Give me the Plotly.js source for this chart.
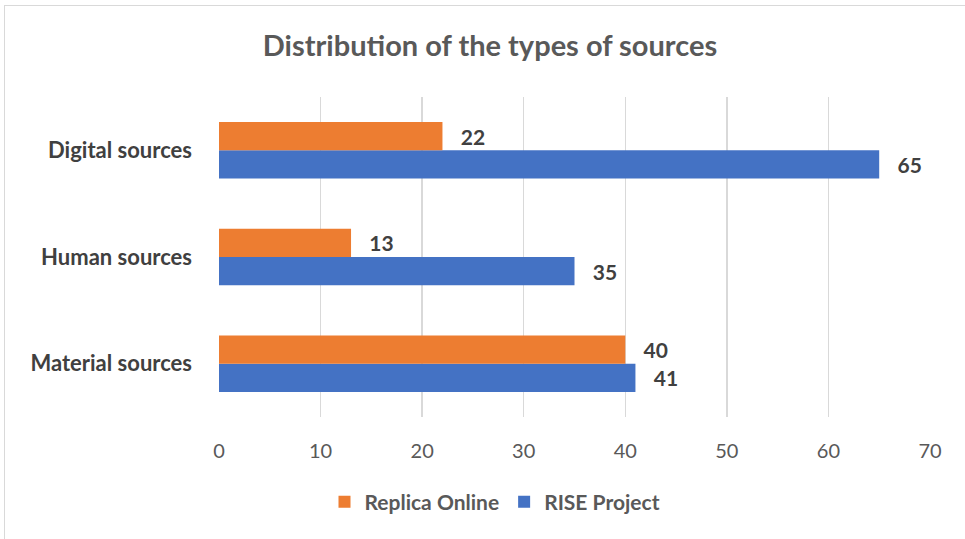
<!DOCTYPE html>
<html>
<head>
<meta charset="utf-8">
<script src="https://cdn.plot.ly/plotly-3.0.1.min.js"></script>
<style>
  html, body { margin:0; padding:0; background:#fff; }
  #chart { width:965px; height:539px; position:absolute; left:0; top:0; }
  #frame { position:absolute; left:4px; top:5px; width:1000px; height:1000px; border:1px solid #d9d9d9; pointer-events:none; }
</style>
</head>
<body>
<div id="chart"></div>
<div id="frame"></div>
<script>
const categories = ["Material sources", "Human sources", "Digital sources"];
const replicaOnline = [40, 13, 22];
const riseProject = [41, 35, 65];
const xTicks = [0, 10, 20, 30, 40, 50, 60, 70];

const labelFont = {family: "Lato, 'Open Sans', sans-serif", size: 21, color: "#404040", weight: "bold"};

const traces = [
  {
    type: "bar", orientation: "h", name: "RISE Project",
    y: categories, x: riseProject,
    marker: {color: "#4472C4"},
    text: riseProject.map(v => "\u00a0\u00a0\u00a0" + v),
    textposition: "outside", cliponaxis: false,
    textfont: labelFont, hoverinfo: "x+name"
  },
  {
    type: "bar", orientation: "h", name: "Replica Online",
    y: categories, x: replicaOnline,
    marker: {color: "#ED7D31"},
    text: replicaOnline.map(v => "\u00a0\u00a0\u00a0" + v),
    textposition: "outside", cliponaxis: false,
    textfont: labelFont, hoverinfo: "x+name"
  }
];

const layout = {
  width: 965, height: 539,
  margin: {l: 219, r: 35, t: 97, b: 122, autoexpand: false},
  paper_bgcolor: "rgba(0,0,0,0)", plot_bgcolor: "#fff",
  barmode: "group", bargap: 0.47, bargroupgap: 0,
  font: {family: "Lato, 'Open Sans', sans-serif", color: "#595959"},
  title: {
    text: "<b>Distribution of the types of sources</b>",
    x: 490/965, xref: "container", xanchor: "center",
    y: 1 - 46/539, yref: "container", yanchor: "middle",
    font: {size: 29, color: "#595959", family: "Lato, 'Open Sans', sans-serif"}
  },
  xaxis: {
    range: [0, 70], tickvals: xTicks, ticktext: xTicks.map(String),
    showgrid: true, gridcolor: "#d9d9d9", gridwidth: 1.5,
    zeroline: false, showline: false, ticks: "",
    tickfont: {size: 20, color: "#595959"}, ticklabelstandoff: 20,
    fixedrange: true
  },
  yaxis: {
    showgrid: false, zeroline: false, showline: false, ticks: "",
    tickfont: {size: 22, color: "#404040", weight: "bold"},
    ticklabelstandoff: 26, fixedrange: true
  },
  legend: {
    orientation: "h", x: 495/965, xref: "container", xanchor: "center",
    y: 37/539, yref: "container", yanchor: "middle",
    traceorder: "reversed",
    font: {size: 21, color: "#595959", weight: "bold"},
    itemwidth: 30
  },
  showlegend: true
};

Plotly.newPlot("chart", traces, layout, {displayModeBar: false, staticPlot: true});
</script>
</body>
</html>
